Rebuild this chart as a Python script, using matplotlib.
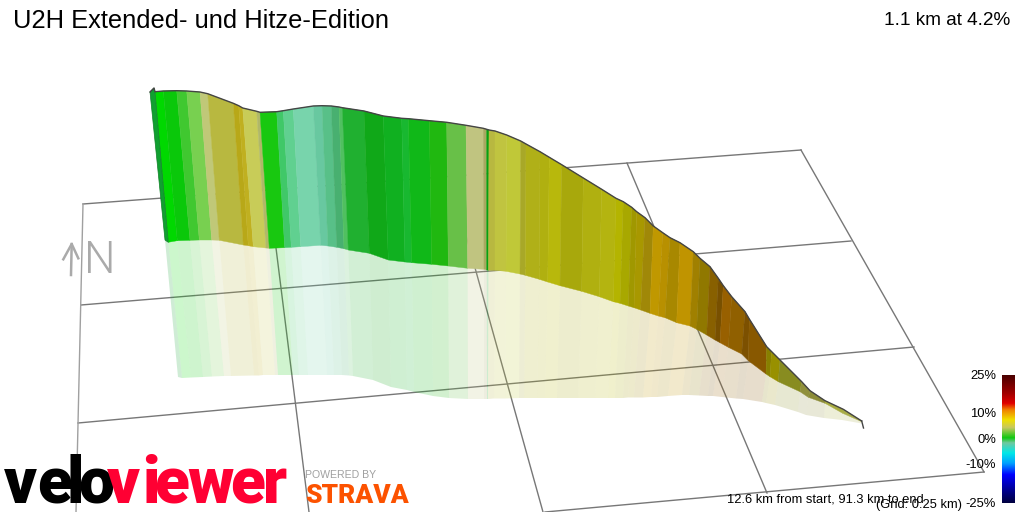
import numpy as np
import matplotlib
matplotlib.use("Agg")
import matplotlib.pyplot as plt
from matplotlib.colors import LinearSegmentedColormap

# climb wall, projected to screen pixels, one entry per station
top_x = [155, 163.3, 176.7, 186.7, 200, 207.7, 233.3, 238.7, 242.7, 256.7, 260, 276.7, 283.3, 293.3, 313.3, 322,
         331.3, 339, 342.3, 364, 383.3, 401.7, 408.3, 429.3, 446.7, 466, 483.3, 486.7, 489, 495, 506.7, 520.7,
         526, 540, 549.3, 561.7, 583.3, 601.7, 616, 623.3, 631.7, 636.7, 645, 653.3, 662.7, 670, 680, 693.3,
         700, 710, 718.3, 723.3, 731.7, 745, 749.3, 766.7, 771.7, 780, 801.7, 810, 825, 843.3, 861.7]
top_y = [91.7, 91, 90.7, 91, 92, 93.7, 103.3, 105.7, 108, 111.3, 112.3, 111.7, 110.7, 109, 106, 105.7,
         106, 107, 107.7, 111, 116, 118.3, 118.7, 120.7, 122.3, 125.3, 128.3, 129.3, 130, 131, 135, 141,
         144, 151.7, 157.3, 164.7, 178, 189.3, 198.3, 201.7, 207.3, 211.7, 217.7, 226, 232.7, 237.7, 242.7, 251.7,
         258.3, 266.7, 278.3, 285.7, 296.7, 311.7, 319, 346.7, 351.7, 360, 381.7, 390.7, 400.7, 409.3, 421]
base_x = [168.3, 177.3, 190, 199.3, 211.7, 219.3, 243.3, 248.3, 253.3, 266, 269.3, 284.7, 291.3, 300.7, 320.7, 328,
          336.7, 344, 348.3, 369.3, 388.3, 405, 411.7, 431.7, 448.3, 467.7, 484, 486.7, 488.5, 495, 506, 520,
          525.3, 539.3, 547.7, 560, 581.7, 599.3, 613.3, 620, 628.3, 634, 640.7, 650, 658.3, 665, 676.7, 690,
          696.7, 706.7, 715, 720, 728.3, 741.7, 748.3, 766, 770, 778.3, 800, 808.3, 825, 842.7, 861.7]
base_y = [242.3, 240.7, 240.3, 240, 240, 240.3, 245, 245.7, 246.7, 248, 248.3, 247.7, 247.3, 246.7, 245.3, 246,
          247.3, 248.7, 250, 253.3, 260, 262, 262.7, 264.3, 266, 268.3, 269.3, 270, 270.3, 270.3, 271.3, 274,
          275.3, 279.3, 282, 285.7, 291.3, 296.7, 301.7, 303.3, 306, 307.7, 310, 313.3, 316, 317.7, 322.7, 326,
          329.3, 335, 340, 342.7, 347.3, 354, 360.7, 374, 376.7, 381.7, 391.7, 397.3, 403.3, 413.3, 421.7]
shadow_x = [182, 191, 203, 212, 224, 231, 254, 259, 263, 275, 278, 293, 299, 308, 327, 334,
            342, 349, 353, 373, 391, 407, 414, 433, 449, 468, 484, 487, 488, 494, 505, 519,
            524, 537, 545, 557, 578, 595, 608, 615, 623, 628, 634, 643, 651, 657, 668, 682,
            689, 699, 708, 713, 722, 736, 743, 762, 766, 775, 798, 806, 824, 842, 862]
shadow_y = [378, 377.5, 377, 376.5, 376, 376, 375.5, 375.5, 375, 375, 375, 375, 375, 375, 375, 375,
            375, 375.5, 376, 380, 387, 390, 392, 396, 398, 399, 399, 399, 399, 398.5, 398.5, 398,
            398, 398, 398, 398, 398, 398, 398, 398, 398, 397.5, 397.5, 397.5, 397, 397, 396, 395,
            395, 395.5, 396, 396, 397, 398.5, 399, 402, 403, 405, 412, 415, 418, 420, 423.5]
seg_colors = ["#00d800", "#0ac80a", "#40c830", "#78d050", "#c0c878", "#b8b840", "#b8a818", "#c0b020",
              "#c8cc58", "#b0b868", "#18c810", "#40c868", "#60d090", "#78d4ac", "#68c8a0", "#58c088",
              "#48b070", "#50c060", "#20b030", "#10a818", "#10b020", "#18b830", "#10b818", "#20b810",
              "#68c048", "#c0c480", "#a8a860", "#08a010", "#b8b840", "#c0c440", "#c0c838", "#a8a828",
              "#b0b018", "#b0b010", "#b8b80c", "#a8a80c", "#b0b010", "#b4b410", "#b4b400", "#a8a800",
              "#a09800", "#a89800", "#a08808", "#c09800", "#b89000", "#a88800", "#c09400", "#a08000",
              "#907800", "#886000", "#785000", "#986000", "#906000", "#7c5000", "#885800", "#888000",
              "#989000", "#888c20", "#90903c", "#8c8c38", "#a8ac40", "#a8ac48"]

# ground grid, end points on screen
grid_x0 = [83, 81, 78, 984, 83, 269, 450, 627, 801]
grid_y0 = [204, 305, 423, 472, 204, 192, 178, 163, 150]
grid_x1 = [801, 851, 914, 545, 76, 309, 543, 767, 984]
grid_y1 = [150, 241, 347, 512, 512, 512, 512, 493, 472]

# colour scale
scale_grades = [-25, -21, -14, -9.5, -5.5, -1.5, 0.5, 4.5, 7.5, 11.5, 14, 18, 25]
scale_colors = ["#000040", "#000080", "#0000ff", "#00a0ff", "#00e8e8", "#70c8a0", "#10c810", "#c8c860",
                "#f0e000", "#f08000", "#e00000", "#a00000", "#4a0000"]
scale_ticks = ["25%", "10%", "0%", "-10%", "-25%"]
scale_tick_y = [375, 413, 439, 464, 503]

title = "U2H Extended- und Hitze-Edition"
summary = "1.1 km at 4.2%"
position = "12.6 km from start, 91.3 km to end"
grid_note = "(Grid: 0.25 km)"

velo_letters = list("velo")
velo_x = [4, 37, 67, 78]
viewer_letters = list("viewer")
viewer_x = [107, 142, 154, 187, 230, 263]

plt.rcParams['font.family'] = ['Liberation Sans', 'DejaVu Sans']

fig = plt.figure(figsize=(10.24, 5.12), dpi=100)
ax = fig.add_axes([0, 0, 1, 1])

# grid first so the wall hides it and the shadow tints it
for i in range(len(grid_x0)):
    col = "#a0a0a0" if i == 4 else "#777777"
    ax.plot([grid_x0[i], grid_x1[i]], [grid_y0[i], grid_y1[i]], color=col, lw=1.0, zorder=1)

for i in range(len(seg_colors)):
    xs = [base_x[i], base_x[i+1], shadow_x[i+1], shadow_x[i]]
    ys = [base_y[i], base_y[i+1], shadow_y[i+1], shadow_y[i]]
    ax.fill(xs, ys, color=seg_colors[i], alpha=0.2, lw=0, zorder=2)
    xs = [top_x[i], top_x[i+1], base_x[i+1], base_x[i]]
    ys = [top_y[i], top_y[i+1], base_y[i+1], base_y[i]]
    ax.fill(xs, ys, facecolor=seg_colors[i], edgecolor=seg_colors[i], lw=0.3, zorder=3)

# near end of the wall and the outline
ax.fill([165, 168.3, 182, 178], [240, 242.3, 378, 377], color="#10a030", alpha=0.2, lw=0, zorder=2)
ax.fill([150, 154, 155, 168.3, 165], [92, 88, 91.7, 242.3, 240], facecolor="#10a030", edgecolor="#108028",
        lw=0.5, zorder=3)
ax.plot([150, 154] + top_x, [92, 88] + top_y, color="#444444", lw=1.0, zorder=4)
ax.plot([861.7, 863.5], [421, 428], color="#444444", lw=1.0, zorder=4)

# north marker
ax.plot([71.7, 71], [244, 275], color="#aaaaaa", lw=1.8, zorder=1)
ax.plot([63.3, 71.7, 78.3], [259.3, 244, 258.3], color="#aaaaaa", lw=1.8, zorder=1)
ax.text(99.5, 273, "N", color="#aaaaaa", fontsize=32, family="Roboto", weight=300, ha="center", va="baseline")

# colour bar
cmap = LinearSegmentedColormap.from_list(
    "grade", [((g + 25) / 50, c) for g, c in zip(scale_grades, scale_colors)])
ax.imshow(np.linspace(1, 0, 256).reshape(-1, 1), cmap=cmap, extent=[1002, 1015, 503, 375],
          aspect="auto", zorder=3)
for lab, y in zip(scale_ticks, scale_tick_y):
    ax.text(996, y + 1, lab, fontsize=9.4, ha="right", va="center", color="black")

ax.text(13, 28, title, fontsize=18.4, color="black", va="baseline")
ax.text(1010, 25, summary, fontsize=13.7, color="black", ha="right", va="baseline")
ax.text(727, 503, position, fontsize=9.3, color="black", va="baseline", zorder=5)
ax.text(962, 508, grid_note, fontsize=9.3, color="black", ha="right", va="baseline", zorder=5)

# logos
for ch, x in zip(velo_letters, velo_x):
    ax.text(x, 503, ch, fontsize=46, family="Roboto", weight=900, color="black", va="baseline", zorder=5)
for ch, x in zip(viewer_letters, viewer_x):
    ax.text(x, 503, ch, fontsize=46, family="Roboto", weight=900, color="#ff0033", va="baseline", zorder=5)
ax.text(305, 478, "POWERED BY", fontsize=7.6, color="#a0a0a0", va="baseline", zorder=5)
ax.text(305, 503, "STRAVA", fontsize=19, family="Roboto", weight=900, color="#fc5200", va="baseline", zorder=5)

ax.set_xlim(0, 1024)
ax.set_ylim(512, 0)
ax.axis("off")

fig.savefig("out.png", dpi=100)
